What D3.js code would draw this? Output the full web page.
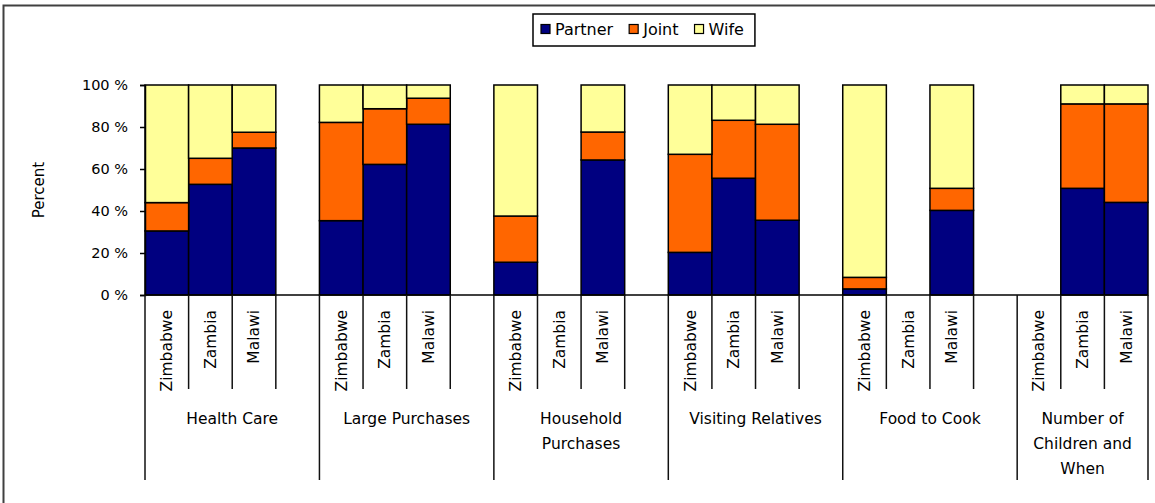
<!DOCTYPE html>
<html>
<head>
<meta charset="utf-8">
<script src="https://cdn.jsdelivr.net/npm/d3@7"></script>
<style>
  html, body { margin: 0; padding: 0; background: #fff; }
  svg { display: block; }
  text { font-family: "DejaVu Sans", sans-serif; fill: #000; }
</style>
</head>
<body>
<svg id="chart" width="1155" height="503"></svg>
<script>
// ---- Data ----
const groups = ["Health Care", "Large Purchases", "Household Purchases", "Visiting Relatives", "Food to Cook", "Number of Children and When"];
const groupLabelLines = [["Health Care"], ["Large Purchases"], ["Household", "Purchases"], ["Visiting Relatives"], ["Food to Cook"], ["Number of", "Children and", "When"]];
const countries = ["Zimbabwe", "Zambia", "Malawi"];
const seriesNames = ["Partner", "Joint", "Wife"];
const seriesColors = ["#000080", "#FF6600", "#FFFF99"];
// values per group, in country order (Zimbabwe, Zambia, Malawi); null = no data
const partner = [30.5, 52.7, 70.0,  35.4, 62.2, 81.3,  15.6, null, 64.3,  20.3, 55.6, 35.6,  2.9, null, 40.3,  null, 50.8, 44.1];
const joint   = [13.5, 12.4,  7.5,  46.8, 26.5, 12.4,  22.0, null, 13.3,  46.7, 27.6, 45.7,  5.5, null, 10.5,  null, 40.2, 46.9];
const wife    = [56.0, 34.9, 22.5,  17.8, 11.3,  6.3,  62.4, null, 22.4,  33.0, 16.8, 18.7, 91.6, null, 49.2,  null,  9.0,  9.0];
const yTicks = [0, 20, 40, 60, 80, 100];
const yLabel = "Percent";

// ---- Layout ----
const svg = d3.select("#chart");
const plotLeft = 145, plotRight = 1148, plotTop = 85, plotBottom = 295;
const shortTickEnd = 389, longTickEnd = 480;

// slots: 3 countries per group plus a blank slot between groups
const slots = [];
groups.forEach((g, gi) => {
  countries.forEach(c => slots.push(g + "|" + c));
  if (gi < groups.length - 1) slots.push(g + "|gap");
});

const x = d3.scaleBand().domain(slots).range([plotLeft, plotRight]).paddingInner(0).paddingOuter(0);
const y = d3.scaleLinear().domain([0, 100]).range([plotBottom, plotTop]);

// rows
const rows = [];
groups.forEach((g, gi) => countries.forEach((c, ci) => {
  const i = gi * 3 + ci;
  rows.push({ key: g + "|" + c, group: g, country: c, Partner: partner[i], Joint: joint[i], Wife: wife[i], has: partner[i] !== null });
}));

const stack = d3.stack().keys(seriesNames).value((d, k) => d[k] || 0);
const stacked = stack(rows.filter(r => r.has));

// frame (left & top edges visible)
svg.append("path").attr("d", "M3.5,503 L3.5,5.5 L1160,5.5").attr("fill", "none").attr("stroke", "#404040").attr("stroke-width", 2);

// bars
const layers = svg.append("g").selectAll("g").data(stacked).join("g")
  .attr("fill", (d, i) => seriesColors[i]);
layers.selectAll("rect").data(d => d).join("rect")
  .attr("x", d => x(d.data.key))
  .attr("width", x.bandwidth())
  .attr("y", d => y(d[1]))
  .attr("height", d => y(d[0]) - y(d[1]))
  .attr("stroke", "#000").attr("stroke-width", 1.5);

// y axis
const yAxis = d3.axisLeft(y).tickValues(yTicks).tickFormat(d => d + " %").tickSize(5).tickPadding(12);
const yg = svg.append("g").attr("transform", `translate(${plotLeft},0)`).call(yAxis);
yg.selectAll("path.domain").attr("stroke", "#000").attr("stroke-width", 1.5);
yg.selectAll(".tick line").attr("stroke", "#000").attr("stroke-width", 1.5);
yg.selectAll(".tick text").style("font-family", "DejaVu Sans").style("font-size", "14.5px").attr("fill", "#000");

svg.append("text")
  .attr("transform", `translate(44,${(plotTop + plotBottom) / 2}) rotate(-90)`)
  .attr("text-anchor", "middle")
  .style("font-size", "15px")
  .text(yLabel);

// x axis baseline
svg.append("line").attr("x1", plotLeft).attr("x2", plotRight).attr("y1", plotBottom).attr("y2", plotBottom)
  .attr("stroke", "#000").attr("stroke-width", 1.5);

// category tick lines
const tg = svg.append("g").attr("stroke", "#111").attr("stroke-width", 1.5);
groups.forEach((g, gi) => {
  const start = x(g + "|" + countries[0]);
  tg.append("line").attr("x1", start).attr("x2", start).attr("y1", plotBottom).attr("y2", longTickEnd);
  countries.forEach((c, ci) => {
    const right = x(g + "|" + c) + x.bandwidth();
    const isEnd = gi === groups.length - 1 && ci === countries.length - 1;
    tg.append("line").attr("x1", right).attr("x2", right).attr("y1", plotBottom).attr("y2", isEnd ? longTickEnd : shortTickEnd);
  });
});

// country labels
svg.append("g").selectAll("text").data(slots.filter(s => !s.endsWith("|gap"))).join("text")
  .attr("transform", d => `translate(${x(d) + x.bandwidth() / 2},310) rotate(-90)`)
  .attr("text-anchor", "end")
  .attr("dy", "0.35em")
  .style("font-size", "15.5px")
  .text(d => d.split("|")[1]);

// group labels
groups.forEach((g, gi) => {
  const start = x(g + "|" + countries[0]);
  const end = gi < groups.length - 1 ? x(groups[gi + 1] + "|" + countries[0]) : plotRight;
  const cx = (start + end) / 2;
  const t = svg.append("text").attr("text-anchor", "middle").style("font-size", "15.5px");
  groupLabelLines[gi].forEach((line, li) => {
    t.append("tspan").attr("x", cx).attr("y", 424 + li * 25).text(line);
  });
});

// legend
const lg = svg.append("g");
const box = lg.append("rect").attr("y", 14).attr("height", 32).attr("fill", "#fff").attr("stroke", "#000").attr("stroke-width", 1.5);
let lx = 541;
seriesNames.forEach((s, i) => {
  lg.append("rect").attr("x", lx).attr("y", 24.5).attr("width", 9).attr("height", 9)
    .attr("fill", seriesColors[i]).attr("stroke", "#000").attr("stroke-width", 1.2);
  const t = lg.append("text").attr("x", lx + 14).attr("y", 29).attr("dy", "0.35em").style("font-size", "16px").text(s);
  lx += 14 + t.node().getComputedTextLength() + 16;
});
box.attr("x", 533).attr("width", lx - 16 - 533 + 11);
</script>
</body>
</html>
